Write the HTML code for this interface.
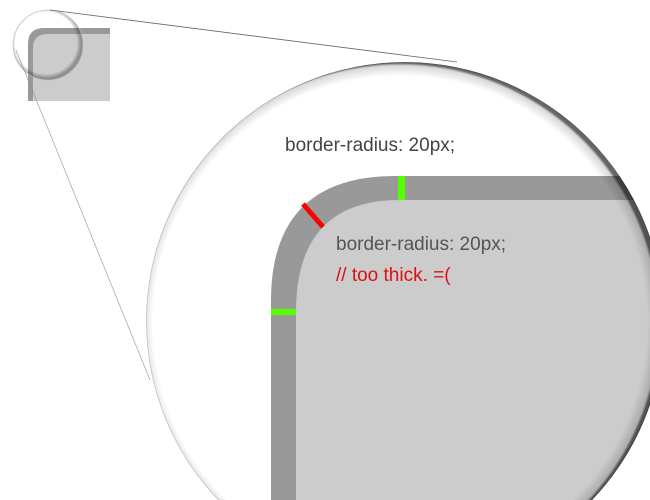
<!DOCTYPE html>
<html><head><meta charset="utf-8"><style>
html,body{margin:0;padding:0;background:#fff;width:650px;height:500px;overflow:hidden}
svg{display:block}
text{font-family:"Liberation Sans",sans-serif}
</style></head><body>
<svg width="650" height="500" viewBox="0 0 650 500">
<defs>
<clipPath id="bigc"><circle cx="405" cy="321" r="259"/></clipPath>
<radialGradient id="edge" cx="400" cy="323" r="260" gradientUnits="userSpaceOnUse">
<stop offset="0.95" stop-color="#000" stop-opacity="0"/>
<stop offset="0.99" stop-color="#000" stop-opacity="0.15"/>
<stop offset="1" stop-color="#000" stop-opacity="0.6"/>
</radialGradient>
<radialGradient id="sedge" cx="46" cy="43" r="35" gradientUnits="userSpaceOnUse">
<stop offset="0.88" stop-color="#000" stop-opacity="0"/>
<stop offset="1" stop-color="#000" stop-opacity="0.3"/>
</radialGradient>
</defs>
<g>
<path d="M28,101 V44 Q28,28 44,28 H110 V101 Z" fill="#999"/>
<path d="M33,101 V48 Q33,34 48,34 H110 V101 Z" fill="#ccc"/>
</g>
<circle cx="48" cy="45" r="35" fill="url(#sedge)" stroke="#bbb" stroke-width="0.6"/>
<line x1="50" y1="10" x2="457" y2="62" stroke="#666" stroke-width="0.8"/>
<line x1="16" y1="50" x2="150" y2="380" stroke="#888" stroke-width="0.8" opacity="0.7"/>
<g clip-path="url(#bigc)">
<rect x="0" y="0" width="650" height="500" fill="#fff"/>
<path d="M271,500 V301 Q271,176 396,176 H700 V500 Z" fill="#999"/>
<path d="M296,500 V312 Q296,200 400,200 H700 V500 Z" fill="#ccc"/>
<rect x="398" y="176" width="7" height="24" fill="#5f0"/>
<rect x="271" y="309" width="25" height="6" fill="#5f0"/>
<line x1="303" y1="204" x2="323" y2="227" stroke="#f00" stroke-width="5"/>
<text x="285" y="151" font-size="19" fill="#444">border-radius: 20px;</text>
<text x="336" y="250" font-size="19" fill="#555">border-radius: 20px;</text>
<text x="336" y="281" font-size="19" fill="#e01010">// too thick.  =(</text>
<circle cx="405" cy="321" r="259" fill="url(#edge)"/>
<circle cx="405" cy="321" r="258.5" fill="none" stroke="#000" stroke-opacity="0.15" stroke-width="1"/>
</g>
</svg>
</body></html>
